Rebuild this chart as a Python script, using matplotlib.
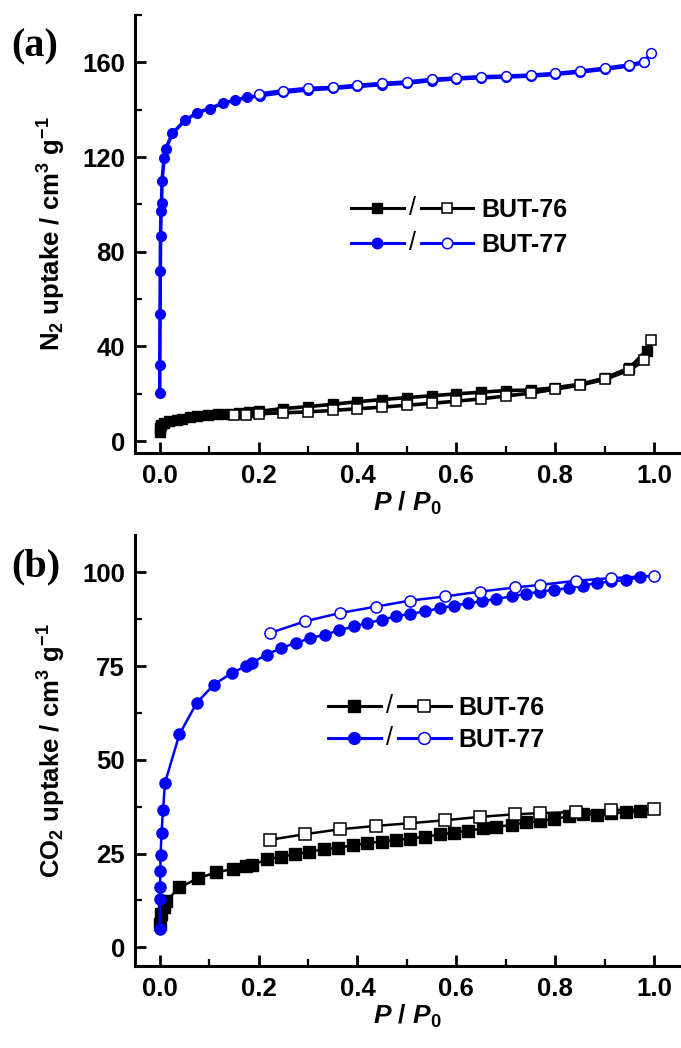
import matplotlib
matplotlib.use("Agg")
import matplotlib.pyplot as plt
import numpy as np
from matplotlib.legend_handler import HandlerBase
from matplotlib.lines import Line2D
from matplotlib.text import Text
from matplotlib.ticker import MultipleLocator, FormatStrFormatter

# N2 isotherms (77 K)
n2_77_ads_p = [0.0003, 0.0005, 0.001, 0.0015, 0.002, 0.003, 0.004, 0.005, 0.009, 0.012,
               0.026, 0.052, 0.076, 0.101, 0.128, 0.152, 0.177, 0.203,
               0.25, 0.3, 0.35, 0.4, 0.45, 0.5, 0.55, 0.6, 0.65, 0.7, 0.75, 0.8, 0.85, 0.9, 0.95, 0.98]
n2_77_ads_v = [20.4, 32.3, 53.8, 71.9, 86.6, 97.3, 100.6, 110.0, 119.4, 123.3,
               130.0, 135.6, 138.7, 140.5, 142.7, 144.0, 145.2, 145.9,
               147.3, 148.4, 149.0, 149.8, 150.6, 151.2, 152.3, 153.0, 153.5, 153.8, 154.2, 154.9, 155.9, 157.1, 158.5, 160.0]
n2_77_des_p = [0.2, 0.25, 0.3, 0.35, 0.4, 0.45, 0.5, 0.55, 0.6, 0.65, 0.7, 0.75, 0.8, 0.85, 0.9, 0.95, 0.98, 0.994]
n2_77_des_v = [146.6, 148.0, 149.0, 149.4, 150.3, 151.1, 151.7, 152.8, 153.4, 153.9, 154.2, 154.6, 155.3, 156.3, 157.5, 158.9, 160.3, 163.8]

n2_76_ads_p = [0.0003, 0.001, 0.003, 0.008, 0.02, 0.035, 0.045, 0.061, 0.075, 0.098, 0.119, 0.14, 0.16, 0.18, 0.2,
               0.25, 0.3, 0.35, 0.4, 0.45, 0.5, 0.55, 0.6, 0.65, 0.7, 0.75, 0.8, 0.85, 0.9, 0.95, 0.985]
n2_76_ads_v = [3.8, 5.5, 7.0, 7.8, 8.4, 8.8, 9.4, 10.1, 10.6, 10.9, 11.3, 11.6, 11.9, 12.2, 12.6,
               13.8, 14.6, 15.6, 16.7, 17.6, 18.4, 19.2, 20.0, 20.7, 21.4, 21.6, 22.6, 24.1, 26.6, 31.0, 38.3]
n2_76_des_p = [0.15, 0.175, 0.2, 0.25, 0.3, 0.35, 0.4, 0.45, 0.5, 0.55, 0.6, 0.65, 0.7, 0.75, 0.8, 0.85, 0.9, 0.95, 0.98, 0.994]
n2_76_des_v = [10.9, 11.1, 11.6, 12.0, 12.4, 13.0, 13.7, 14.4, 15.2, 16.0, 16.9, 17.9, 19.1, 20.3, 22.0, 23.7, 26.1, 30.1, 34.1, 42.6]

# CO2 isotherms
co2_77_ads_p = [0.0, 0.0005, 0.001, 0.0015, 0.002, 0.004, 0.007, 0.011, 0.04, 0.075, 0.11, 0.146, 0.175, 0.186,
                0.217, 0.246, 0.276, 0.305, 0.335, 0.363, 0.394, 0.42, 0.45, 0.478, 0.507, 0.537, 0.566,
                0.595, 0.624, 0.652, 0.681, 0.712, 0.741, 0.77, 0.798, 0.827, 0.857, 0.885, 0.913, 0.942, 0.972]
co2_77_ads_v = [4.9, 12.9, 16.1, 20.4, 24.6, 30.6, 36.6, 43.9, 56.8, 65.2, 70.1, 73.2, 75.0, 75.9,
                78.1, 79.9, 81.2, 82.5, 83.4, 84.6, 85.6, 86.5, 87.4, 88.3, 89.0, 89.6, 90.5,
                91.1, 91.8, 92.3, 93.0, 93.6, 94.3, 94.9, 95.4, 95.8, 96.5, 97.2, 97.6, 98.0, 98.7]
co2_77_des_p = [1.0, 0.913, 0.842, 0.77, 0.719, 0.648, 0.577, 0.506, 0.438, 0.365, 0.295, 0.224]
co2_77_des_v = [99.1, 98.5, 97.8, 96.7, 96.0, 94.9, 93.6, 92.5, 90.9, 89.2, 87.0, 83.9]

co2_76_ads_p = [0.0, 0.003, 0.008, 0.014, 0.04, 0.078, 0.114, 0.149, 0.175, 0.186, 0.217, 0.246, 0.274,
                0.303, 0.332, 0.361, 0.391, 0.42, 0.449, 0.478, 0.507, 0.537, 0.566, 0.596, 0.624, 0.653,
                0.681, 0.712, 0.741, 0.77, 0.798, 0.827, 0.857, 0.885, 0.913, 0.942, 0.972]
co2_76_ads_v = [6.2, 8.9, 10.7, 12.4, 16.0, 18.4, 20.0, 20.9, 21.6, 21.9, 23.5, 24.2, 24.8,
                25.5, 26.2, 26.6, 27.2, 27.8, 28.2, 28.7, 29.0, 29.5, 30.1, 30.6, 31.1, 31.7,
                32.1, 32.7, 33.3, 33.7, 34.3, 34.9, 35.5, 35.4, 35.8, 36.0, 36.4]
co2_76_des_p = [1.0, 0.913, 0.842, 0.77, 0.719, 0.648, 0.577, 0.506, 0.438, 0.365, 0.295, 0.224]
co2_76_des_v = [36.8, 36.6, 36.1, 35.8, 35.5, 34.8, 33.9, 33.1, 32.4, 31.5, 30.2, 28.7]

x_ticks = [0.0, 0.2, 0.4, 0.6, 0.8, 1.0]
n2_ticks = [0, 40, 80, 120, 160]
co2_ticks = [0, 25, 50, 75, 100]
names = ["BUT-76", "BUT-77"]
colors = ["black", "#0000ff"]

plt.rcParams['font.family'] = ['Liberation Sans', 'DejaVu Sans']
plt.rcParams['font.weight'] = 'bold'
plt.rcParams['mathtext.fontset'] = 'custom'
plt.rcParams['mathtext.rm'] = 'Liberation Sans:bold'
plt.rcParams['mathtext.bf'] = 'Liberation Sans:bold'
plt.rcParams['mathtext.it'] = 'Liberation Sans:italic:bold'


class PairHandler(HandlerBase):
    # draws "filled —/— open" as one legend handle
    def create_artists(self, legend, orig_handle, xdescent, ydescent, width, height, fontsize, trans):
        full, hollow = orig_handle
        y = height / 2 - ydescent
        seg = width * 0.43
        arts = []
        for h, x0 in ((full, -xdescent), (hollow, -xdescent + width - seg)):
            arts.append(Line2D([x0, x0 + seg], [y, y], color=h.get_color(),
                               lw=2.2, transform=trans))
            arts.append(Line2D([x0 + seg / 2], [y], ls='', marker=h.get_marker(),
                               ms=h.get_markersize() + 0.5, mfc=h.get_markerfacecolor(),
                               mec=h.get_markeredgecolor(), mew=h.get_markeredgewidth(),
                               transform=trans))
        arts.append(Text(-xdescent + width / 2, y, '/', ha='center', va='center',
                         fontsize=fontsize, fontweight='normal', transform=trans))
        return arts


def draw_panel(ax, series, yticks, ylim, ylabel, ms, lw, leg_anchor, leg_space):
    handles = []
    for (ads_p, ads_v, des_p, des_v, marker), c in zip(series, colors):
        h1, = ax.plot(ads_p, ads_v, '-', color=c, marker=marker, ms=ms, lw=lw,
                      mfc=c, mec=c, mew=1)
        h2, = ax.plot(des_p, des_v, '-', color=c, marker=marker, ms=ms, lw=lw,
                      mfc='white', mec=c, mew=1.1)
        handles.append((h1, h2))
    ax.set_xlim(-0.05, 1.05)
    ax.set_ylim(*ylim)
    ax.set_xticks(x_ticks)
    ax.set_yticks(yticks)
    ax.xaxis.set_major_formatter(FormatStrFormatter('%.1f'))
    ax.xaxis.set_minor_locator(MultipleLocator(0.1))
    ax.yaxis.set_minor_locator(MultipleLocator((yticks[1] - yticks[0]) / 2))
    for s in ['top', 'right']:
        ax.spines[s].set_visible(False)
    for s in ['left', 'bottom']:
        ax.spines[s].set_linewidth(2.2)
    ax.tick_params(which='major', direction='in', length=8, width=2, labelsize=18.5)
    ax.tick_params(axis='y', which='major', pad=7)
    ax.tick_params(axis='x', which='major', pad=8)
    ax.tick_params(which='minor', direction='in', length=4.8, width=1.6)
    for lab in ax.get_xticklabels() + ax.get_yticklabels():
        lab.set_fontweight('bold')
    ax.set_ylabel(ylabel, fontsize=18.5, fontweight='bold', labelpad=10)
    ax.set_xlabel(r'$P$ / $P_\mathit{0}$', fontsize=19, fontweight='bold', labelpad=1.5)
    ax.legend(handles, names, handler_map={tuple: PairHandler()},
              loc='center left', bbox_to_anchor=leg_anchor, frameon=False,
              prop={'size': 18, 'weight': 'bold'}, handlelength=4.9,
              handletextpad=0.32, borderpad=0, borderaxespad=0,
              labelspacing=leg_space, handleheight=0.7)


fig = plt.figure(figsize=(6.81, 10.48), dpi=100)
ax1 = fig.add_axes([0.198, 0.5677, 0.799, 0.418])
ax2 = fig.add_axes([0.198, 0.0782, 0.799, 0.4113])

draw_panel(ax1,
           [(n2_76_ads_p, n2_76_ads_v, n2_76_des_p, n2_76_des_v, 's'),
            (n2_77_ads_p, n2_77_ads_v, n2_77_des_p, n2_77_des_v, 'o')],
           n2_ticks, (-5, 180), r'N$_2$ uptake / cm$^3$ g$^{-1}$', 7, 2.6,
           (0.397, 0.515), 0.45)
draw_panel(ax2,
           [(co2_76_ads_p, co2_76_ads_v, co2_76_des_p, co2_76_des_v, 's'),
            (co2_77_ads_p, co2_77_ads_v, co2_77_des_p, co2_77_des_v, 'o')],
           co2_ticks, (-5, 110), r'CO$_2$ uptake / cm$^3$ g$^{-1}$', 8, 1.8,
           (0.355, 0.562), 0.3)

fig.text(0.016, 1 - 47 / 1048, '(a)', fontsize=29, fontweight='bold',
         family='Liberation Serif', va='center', ha='left')
fig.text(0.016, 1 - 567 / 1048, '(b)', fontsize=29, fontweight='bold',
         family='Liberation Serif', va='center', ha='left')

fig.savefig('out.png', dpi=100)
